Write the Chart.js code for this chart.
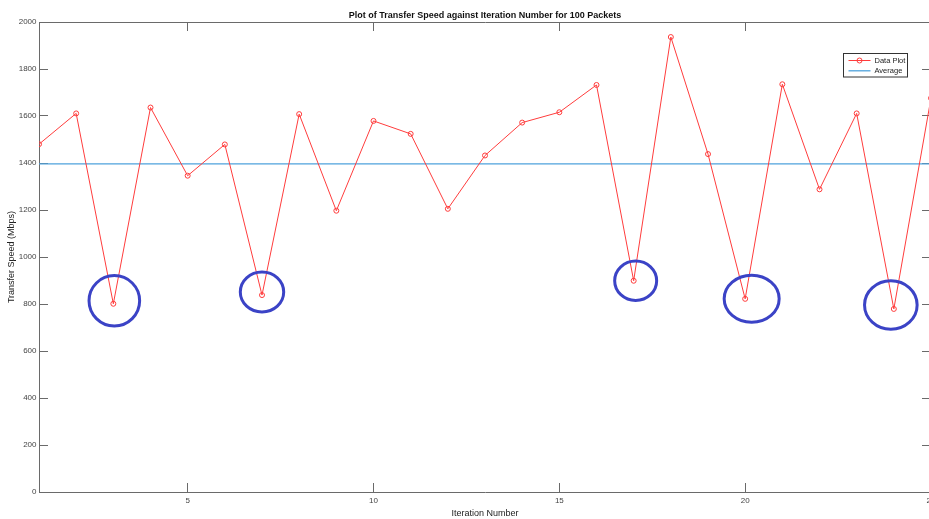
<!DOCTYPE html>
<html>
<head>
<meta charset="utf-8">
<script src="https://cdn.jsdelivr.net/npm/chart.js@4.4.1/dist/chart.umd.min.js"></script>
<style>
html, body { margin: 0; padding: 0; overflow: hidden; background: #fff; }
#wrap { width: 940px; height: 519px; }
</style>
</head>
<body>
<div id="wrap"><canvas id="speedChart" width="940" height="519"></canvas></div>
<script>
// data
var iterations = [1, 2, 3, 4, 5, 6, 7, 8, 9, 10, 11, 12, 13, 14, 15, 16, 17, 18, 19, 20, 21, 22, 23, 24, 25];
var transferSpeed = [1480, 1611, 801, 1636, 1346, 1479, 838, 1608, 1197, 1579, 1524, 1205, 1432,
    1572, 1616, 1732, 899, 1936, 1438, 822, 1735, 1288, 1611, 779, 1676];
var averageSpeed = 1396;
var circledIterations = [3, 7, 17, 20, 24];
var xTicks = [5, 10, 15, 20, 25];
var yTicks = [0, 200, 400, 600, 800, 1000, 1200, 1400, 1600, 1800, 2000];

var axisGrey = '#6a6a6a';
var textGrey = '#444';
Chart.defaults.font.family = '"Liberation Sans", Arial, sans-serif';

// hand drawn rings around the slow iterations
var ringPlugin = {
    id: 'rings',
    afterDatasetsDraw: function (chart, args, opts) {
        var xs = chart.scales.x, ys = chart.scales.y, ctx = chart.ctx;
        ctx.save();
        ctx.strokeStyle = opts.color;
        ctx.lineWidth = opts.width;
        circledIterations.forEach(function (it, i) {
            var cx = xs.getPixelForValue(it) + opts.offsets[i][0];
            var cy = ys.getPixelForValue(transferSpeed[iterations.indexOf(it)]) + opts.offsets[i][1];
            ctx.beginPath();
            ctx.ellipse(cx, cy, opts.radii[i][0], opts.radii[i][1], 0, 0, 2 * Math.PI);
            ctx.stroke();
        });
        ctx.restore();
    }
};

// matlab style legend box inside the axes
var legendBox = {
    id: 'legendBox',
    afterDraw: function (chart) {
        var ctx = chart.ctx, area = chart.chartArea;
        var w = 64, h = 23.5;
        var left = area.right - 24 - w, top = area.top + 31;
        ctx.save();
        ctx.fillStyle = '#fff';
        ctx.fillRect(left, top, w, h);
        ctx.strokeStyle = '#333';
        ctx.lineWidth = 1;
        ctx.strokeRect(left + 0.5, top + 0.5, w, h);
        chart.data.datasets.forEach(function (ds, i) {
            var y = top + 7.5 + i * 10.3;
            ctx.strokeStyle = ds.borderColor;
            ctx.lineWidth = ds.borderWidth;
            ctx.beginPath();
            ctx.moveTo(left + 5.5, y);
            ctx.lineTo(left + 27.5, y);
            ctx.stroke();
            if (ds.pointRadius > 0) {
                ctx.beginPath();
                ctx.arc(left + 16.5, y, ds.pointRadius, 0, 2 * Math.PI);
                ctx.stroke();
            }
            ctx.fillStyle = '#222';
            ctx.font = '7.5px "Liberation Sans", Arial, sans-serif';
            ctx.textBaseline = 'middle';
            ctx.fillText(ds.label, left + 31.5, y);
        });
        ctx.restore();
    }
};

function fixedTicks(values) {
    return function (axis) {
        axis.ticks = values.map(function (v) { return { value: v }; });
    };
}

function fitTo(prop, size) {
    return function (s) {
        s[prop] = size;
        s.paddingLeft = 0;
        s.paddingRight = 0;
        s.paddingTop = 0;
        s.paddingBottom = 0;
    };
}

function plainLabel(v) { return String(v); }

function boxGrid() {
    return { drawOnChartArea: false, drawTicks: true, tickLength: -9, color: axisGrey, lineWidth: 1 };
}

var ctx = document.getElementById('speedChart').getContext('2d');

var chart = new Chart(ctx, {
    type: 'line',
    data: {
        datasets: [
            {
                label: 'Data Plot',
                data: iterations.map(function (it, i) { return { x: it, y: transferSpeed[i] }; }),
                borderColor: '#ff3c3c',
                borderWidth: 1,
                pointRadius: 2.5,
                pointBorderColor: '#ff3c3c',
                pointBackgroundColor: 'rgba(0,0,0,0)',
                pointBorderWidth: 1,
                tension: 0
            },
            {
                label: 'Average',
                data: iterations.map(function (it) { return { x: it, y: averageSpeed }; }),
                borderColor: '#4ea2dc',
                borderWidth: 1.3,
                pointRadius: 0,
                tension: 0
            }
        ]
    },
    options: {
        responsive: false,
        animation: false,
        layout: { padding: 0 },
        scales: {
            x: {
                type: 'linear', position: 'bottom', min: 1, max: 25,
                afterBuildTicks: fixedTicks(xTicks),
                afterFit: fitTo('height', 27),
                grid: boxGrid(),
                border: { display: true, color: axisGrey, width: 1 },
                ticks: { color: textGrey, font: { size: 8 }, padding: 13.2, maxRotation: 0, callback: plainLabel },
                title: { display: true, text: 'Iteration Number', color: '#222', font: { size: 9 }, padding: { top: 0, bottom: 0 } }
            },
            x2: {
                type: 'linear', position: 'top', min: 1, max: 25,
                afterBuildTicks: fixedTicks(xTicks),
                afterFit: fitTo('height', 22),
                grid: boxGrid(),
                border: { display: true, color: axisGrey, width: 1 },
                ticks: { display: false },
                title: {
                    display: true, text: 'Plot of Transfer Speed against Iteration Number for 100 Packets',
                    color: '#111', font: { size: 9, weight: 'bold' }, padding: { top: 10, bottom: 0 }
                }
            },
            y: {
                type: 'linear', position: 'left', min: 0, max: 2000,
                afterBuildTicks: fixedTicks(yTicks),
                afterFit: fitTo('width', 39),
                grid: boxGrid(),
                border: { display: true, color: axisGrey, width: 1 },
                ticks: { color: textGrey, font: { size: 8 }, padding: 11.5, callback: plainLabel },
                title: { display: true, text: 'Transfer Speed (Mbps)', color: '#222', font: { size: 9 }, padding: { top: 6.5, bottom: 0 } }
            },
            y2: {
                type: 'linear', position: 'right', min: 0, max: 2000,
                afterBuildTicks: fixedTicks(yTicks),
                afterFit: fitTo('width', 9),
                grid: boxGrid(),
                border: { display: true, color: axisGrey, width: 1 },
                ticks: { display: false }
            }
        },
        plugins: {
            legend: { display: false },
            tooltip: { enabled: false },
            rings: {
                color: '#3b43c6',
                width: 3,
                radii: [[25.3, 25.2], [21.7, 20], [21, 19.7], [27.5, 23.5], [26.3, 24.2]],
                offsets: [[1, -3], [0, -3], [2, 0], [6.5, 0], [-3, -4]]
            }
        }
    },
    plugins: [ringPlugin, legendBox]
});
</script>
</body>
</html>
